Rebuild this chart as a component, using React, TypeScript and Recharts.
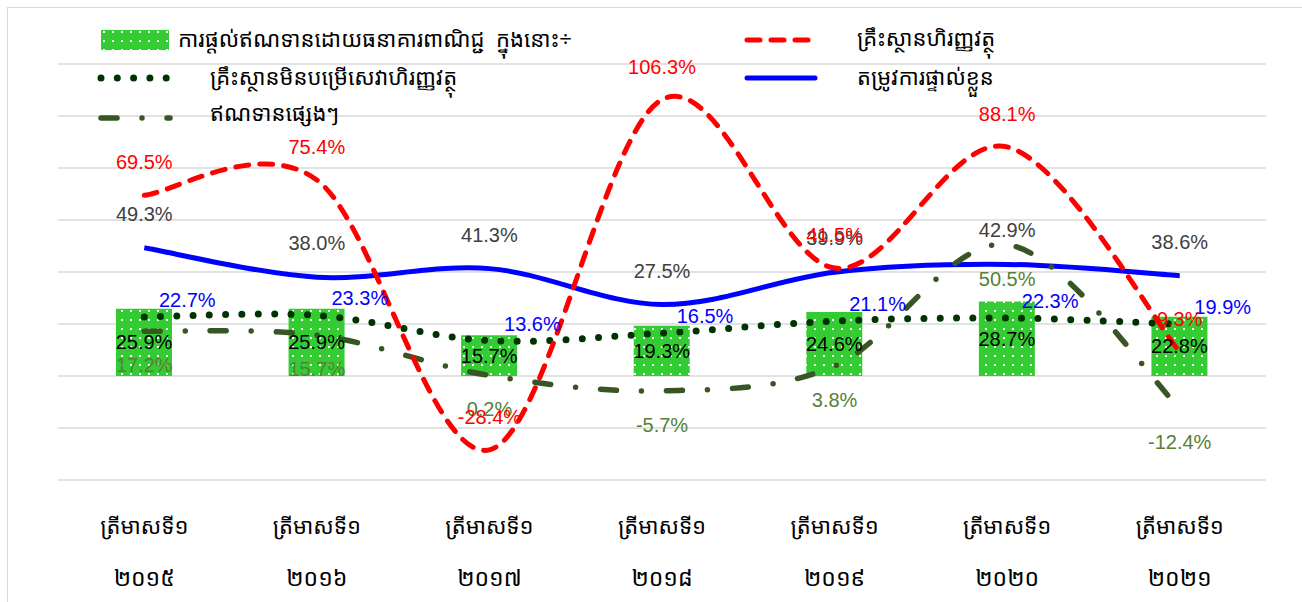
import React from "react";
import {
  ComposedChart,
  Bar,
  Line,
  XAxis,
  YAxis,
  CartesianGrid,
  LabelList,
  Legend,
} from "recharts";

const quarters = ["ត្រីមាសទី១", "ត្រីមាសទី១", "ត្រីមាសទី១", "ត្រីមាសទី១", "ត្រីមាសទី១", "ត្រីមាសទី១", "ត្រីមាសទី១"];
const years = ["២០១៥", "២០១៦", "២០១៧", "២០១៨", "២០១៩", "២០២០", "២០២១"];

const bankCredit = [25.9, 25.9, 15.7, 19.3, 24.6, 28.7, 22.8];
const financialInst = [69.5, 75.4, -28.4, 106.3, 41.5, 88.1, 9.3];
const nonFinancialInst = [22.7, 23.3, 13.6, 16.5, 21.1, 22.3, 19.9];
const personalUse = [49.3, 38.0, 41.3, 27.5, 39.9, 42.9, 38.6];
const otherCredit = [17.2, 15.7, 0.2, -5.7, 3.8, 50.5, -12.4];

const yTicks = [-40, -20, 0, 20, 40, 60, 80, 100, 120];

const legendNames = {
  bank: "ការផ្តល់ឥណទានដោយធនាគារពាណិជ្ជ  ក្នុងនោះ÷",
  fin: "គ្រឹះស្ថានហិរញ្ញវត្ថុ",
  nonFin: "គ្រឹះស្ថានមិនបម្រើសេវាហិរញ្ញវត្ថុ",
  personal: "តម្រូវការផ្ទាល់ខ្លួន",
  other: "ឥណទានផ្សេងៗ",
};

const data = quarters.map((q, i) => ({
  name: `${q} ${years[i]}`,
  bank: bankCredit[i],
  fin: financialInst[i],
  nonFin: nonFinancialInst[i],
  personal: personalUse[i],
  other: otherCredit[i],
}));

const labelFont = "'Liberation Sans', Arial, sans-serif";
const khmerFont = "'Khmer OS System', 'Noto Sans Khmer', 'Noto Sans', 'DejaVu Sans', sans-serif";

// excel-like smoothing (catmull-rom through the points)
function excelSmooth(context: any) {
  let pts: number[][] = [];
  return {
    areaStart() {},
    areaEnd() {},
    lineStart() {
      pts = [];
    },
    point(x: number, y: number) {
      pts.push([+x, +y]);
    },
    lineEnd() {
      const n = pts.length;
      if (!n) return;
      context.moveTo(pts[0][0], pts[0][1]);
      for (let i = 0; i < n - 1; i++) {
        const p0 = pts[i - 1] || pts[i];
        const p1 = pts[i];
        const p2 = pts[i + 1];
        const p3 = pts[i + 2] || p2;
        context.bezierCurveTo(
          p1[0] + (p2[0] - p0[0]) / 6,
          p1[1] + (p2[1] - p0[1]) / 6,
          p2[0] - (p3[0] - p1[0]) / 6,
          p2[1] - (p3[1] - p1[1]) / 6,
          p2[0],
          p2[1]
        );
      }
    },
  };
}

const fmt = (v: number) => `${Number(v).toFixed(1)}%`;

const offsetLabel = (dx: number, dy: number, color: string) => (props: any) => {
  const { x, y, value } = props;
  return (
    <text
      x={x + dx}
      y={y + dy}
      fill={color}
      fontSize={20}
      fontFamily={labelFont}
      textAnchor="middle"
      dominantBaseline="central"
    >
      {fmt(value)}
    </text>
  );
};

const XTick = (props: any) => {
  const { x, y, index } = props;
  return (
    <g>
      <text x={x} y={y + 45} textAnchor="middle" dominantBaseline="central" fontSize={22} fontFamily={khmerFont} fill="#000">
        {quarters[index]}
      </text>
      <text x={x} y={y + 97} textAnchor="middle" dominantBaseline="central" fontSize={23} fontFamily={khmerFont} fill="#000">
        {years[index]}
      </text>
    </g>
  );
};

const legendText: React.CSSProperties = {
  position: "absolute",
  fontFamily: khmerFont,
  fontSize: 22,
  color: "#000",
  whiteSpace: "pre",
  lineHeight: "28px",
};

const LegendBox = () => (
  <div style={{ position: "relative", width: 1302, height: 140 }}>
    <svg width={1302} height={140} style={{ position: "absolute", left: 0, top: 0 }}>
      <rect x={101} y={30} width={68} height={20} fill="url(#greenDots)" />
      <line x1={747} y1={40} x2={808} y2={40} stroke="#FF0000" strokeWidth={5} strokeDasharray="13 11" strokeLinecap="round" />
      <line x1={101} y1={78} x2={170} y2={78} stroke="#003300" strokeWidth={7} strokeDasharray="0 16.3" strokeLinecap="round" />
      <line x1={747} y1={78} x2={815} y2={78} stroke="#0000FF" strokeWidth={5} strokeLinecap="round" />
      <line x1={101} y1={118} x2={170} y2={118} stroke="#375623" strokeWidth={5.5} strokeDasharray="16 25 0 25" strokeLinecap="round" />
    </svg>
    <div style={{ ...legendText, left: 178, top: 24 }}>{legendNames.bank}</div>
    <div style={{ ...legendText, left: 857, top: 23 }}>{legendNames.fin}</div>
    <div style={{ ...legendText, left: 210, top: 62 }}>{legendNames.nonFin}</div>
    <div style={{ ...legendText, left: 857, top: 62 }}>{legendNames.personal}</div>
    <div style={{ ...legendText, left: 210, top: 98 }}>{legendNames.other}</div>
  </div>
);

export default function App() {
  return (
    <div style={{ position: "absolute", left: 0, top: 0, width: 1302, height: 602, overflow: "hidden", background: "#fff" }}>
      <svg width={0} height={0} style={{ position: "absolute" }}>
        <defs>
          <pattern id="greenDots" width={9} height={9} patternUnits="userSpaceOnUse">
            <rect width={9} height={9} fill="#33CC33" />
            <rect x={4} y={4} width={2} height={2} fill="#FFFFFF" />
          </pattern>
        </defs>
      </svg>
      <div style={{ position: "absolute", left: 7, top: 7, width: 1320, height: 620, border: "1px solid #D9D9D9" }} />
      <ComposedChart
        width={1302}
        height={602}
        data={data}
        margin={{ top: 64, right: 36, left: 58, bottom: 0 }}
        style={{ position: "absolute", left: 0, top: 0 }}
      >
        <CartesianGrid vertical={false} stroke="#D9D9D9" strokeWidth={1.5} />
        <XAxis
          dataKey="name"
          height={122}
          axisLine={false}
          tickLine={false}
          tickSize={0}
          tickMargin={0}
          interval={0}
          tick={<XTick />}
        />
        <YAxis hide domain={[-40, 120]} ticks={yTicks} allowDataOverflow />
        <Legend
          layout="horizontal"
          verticalAlign="middle"
          align="center"
          wrapperStyle={{ top: 0, left: 0, width: 1302 }}
          content={() => <LegendBox />}
        />
        <Bar dataKey="bank" barSize={56} fill="url(#greenDots)" isAnimationActive={false}>
          <LabelList dataKey="bank" position="center" formatter={(v: any) => fmt(v)} fill="#000" fontSize={20} fontFamily={labelFont} />
        </Bar>
        <Line
          dataKey="personal"
          type={excelSmooth as any}
          stroke="#0000FF"
          strokeWidth={5}
          dot={false}
          activeDot={false}
          isAnimationActive={false}
        >
          <LabelList dataKey="personal" content={offsetLabel(0, -34, "#404040")} />
        </Line>
        <Line
          dataKey="nonFin"
          type={excelSmooth as any}
          stroke="#003300"
          strokeWidth={7}
          strokeDasharray="0 16.3"
          strokeLinecap="round"
          dot={false}
          activeDot={false}
          isAnimationActive={false}
        >
          <LabelList dataKey="nonFin" content={offsetLabel(43, -17, "#0000FF")} />
        </Line>
        <Line
          dataKey="other"
          type={excelSmooth as any}
          stroke="#375623"
          strokeWidth={5.5}
          strokeDasharray="16 25 0 25"
          strokeLinecap="round"
          dot={false}
          activeDot={false}
          isAnimationActive={false}
        >
          <LabelList dataKey="other" content={offsetLabel(0, 34, "#548235")} />
        </Line>
        <Line
          dataKey="fin"
          type={excelSmooth as any}
          stroke="#FF0000"
          strokeWidth={5}
          strokeDasharray="13 11"
          strokeLinecap="round"
          dot={false}
          activeDot={false}
          isAnimationActive={false}
        >
          <LabelList dataKey="fin" content={offsetLabel(0, -33, "#FF0000")} />
        </Line>
      </ComposedChart>
    </div>
  );
}
